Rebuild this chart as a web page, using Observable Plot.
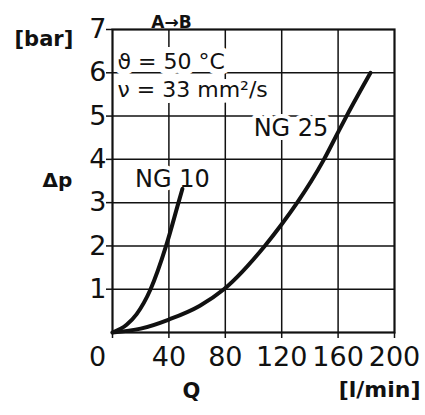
<!DOCTYPE html>
<html>
<head>
<meta charset="utf-8">
<script src="https://cdn.jsdelivr.net/npm/d3@7"></script>
<script src="https://cdn.jsdelivr.net/npm/@observablehq/plot@0.6"></script>
<style>
  html, body { margin: 0; padding: 0; background: #fff; }
  #chart svg { display: block; }
</style>
</head>
<body>
<div id="chart"></div>
<script>
// NG 10 curve (Q in l/min, Δp in bar)
const ng10Q  = [0, 10, 17, 27, 38, 46.8, 49.6];
const ng10Dp = [0, 0.18, 0.42, 1.0, 2.0, 3.0, 3.32];
// NG 25 curve
const ng25Q  = [0, 20, 40, 62, 79, 108, 120, 131, 141, 150, 158, 166, 183];
const ng25Dp = [0, 0.09, 0.3, 0.62, 1.0, 2.0, 2.5, 3.0, 3.5, 4.0, 4.5, 5.0, 6.0];
// ticks
const xTicks = [0, 40, 80, 120, 160, 200];
const yTicks = [1, 2, 3, 4, 5, 6, 7];
const xGrid = [40, 80, 120, 160];
const yGrid = [1, 2, 3, 4, 5, 6];
// curve labels
const labelText = ["NG 10", "NG 25"];
const labelQ = [42.5, 126.6];
const labelDp = [3.54, 4.71];

const ng10 = ng10Q.map((q, i) => ({Q: q, dp: ng10Dp[i]}));
const ng25 = ng25Q.map((q, i) => ({Q: q, dp: ng25Dp[i]}));
const labels = labelText.map((t, i) => ({t, Q: labelQ[i], dp: labelDp[i]}));

const ink = "#111";
const font = "DejaVu Sans";

const chart = Plot.plot({
  width: 425,
  height: 415,
  marginLeft: 112,
  marginRight: 31,
  marginTop: 29,
  marginBottom: 83,
  style: {fontFamily: font, fontSize: "27px", background: "#fff", color: ink, overflow: "visible"},
  x: {domain: [0, 200]},
  y: {domain: [0, 7]},
  marks: [
    Plot.gridX(xGrid, {stroke: ink, strokeOpacity: 1, strokeWidth: 1.5}),
    Plot.gridY(yGrid, {stroke: ink, strokeOpacity: 1, strokeWidth: 1.5}),
    // condition text with white halo
    Plot.text(["ϑ = 50 °C\nν = 33 mm²/s"], {
      frameAnchor: "top-left", textAnchor: "start", lineAnchor: "top",
      dx: 5, dy: 20, lineHeight: 1.27, fontSize: 22, fill: ink,
      stroke: "white", strokeWidth: 12, strokeLinejoin: "round", paintOrder: "stroke"
    }),
    Plot.text(labels, {
      x: "Q", y: "dp", text: "t", fontSize: 24, fill: ink,
      stroke: "white", strokeWidth: 8, strokeLinejoin: "round", paintOrder: "stroke"
    }),
    Plot.frame({stroke: ink, strokeWidth: 2.2}),
    Plot.line(ng10, {x: "Q", y: "dp", curve: "monotone-x", stroke: ink, strokeWidth: 4, strokeLinecap: "round"}),
    Plot.line(ng25, {x: "Q", y: "dp", curve: "monotone-x", stroke: ink, strokeWidth: 4, strokeLinecap: "round"}),
    Plot.axisX(xTicks, {
      tickSize: 6, tickPadding: 8, fontSize: 27, stroke: ink, strokeWidth: 1.5,
      tickFormat: d => d === 0 ? "" : String(d), label: null
    }),
    Plot.text([0], {x: d => d, frameAnchor: "bottom", text: d => String(d), dx: -15, dy: 14, lineAnchor: "top", fontSize: 27, fill: ink}),
    Plot.axisY(yTicks, {tickSize: 6, tickPadding: 0, fontSize: 27, stroke: ink, strokeWidth: 1.5, label: null}),
    // axis labels and annotations
    Plot.text(["[bar]"], {frameAnchor: "top-left", textAnchor: "start", dx: -98, dy: 1.5, fontSize: 21, fontWeight: "bold", fill: ink}),
    Plot.text(["Δp"], {frameAnchor: "left", textAnchor: "middle", dx: -55, dy: 0, fontSize: 20, fontWeight: "bold", fill: ink}),
    Plot.text(["Q"], {frameAnchor: "bottom", textAnchor: "middle", dx: -62, dy: 65.5, fontSize: 21, fontWeight: "bold", fill: ink}),
    Plot.text(["[l/min]"], {frameAnchor: "bottom-right", textAnchor: "end", dx: 26, dy: 64.5, fontSize: 22, fontWeight: "bold", fill: ink}),
    Plot.text(["A→B"], {frameAnchor: "top", textAnchor: "middle", dx: 171 - 253, dy: -14, fontSize: 17, fontWeight: "bold", fill: ink})
  ]
});
document.getElementById("chart").appendChild(chart);
</script>
</body>
</html>
